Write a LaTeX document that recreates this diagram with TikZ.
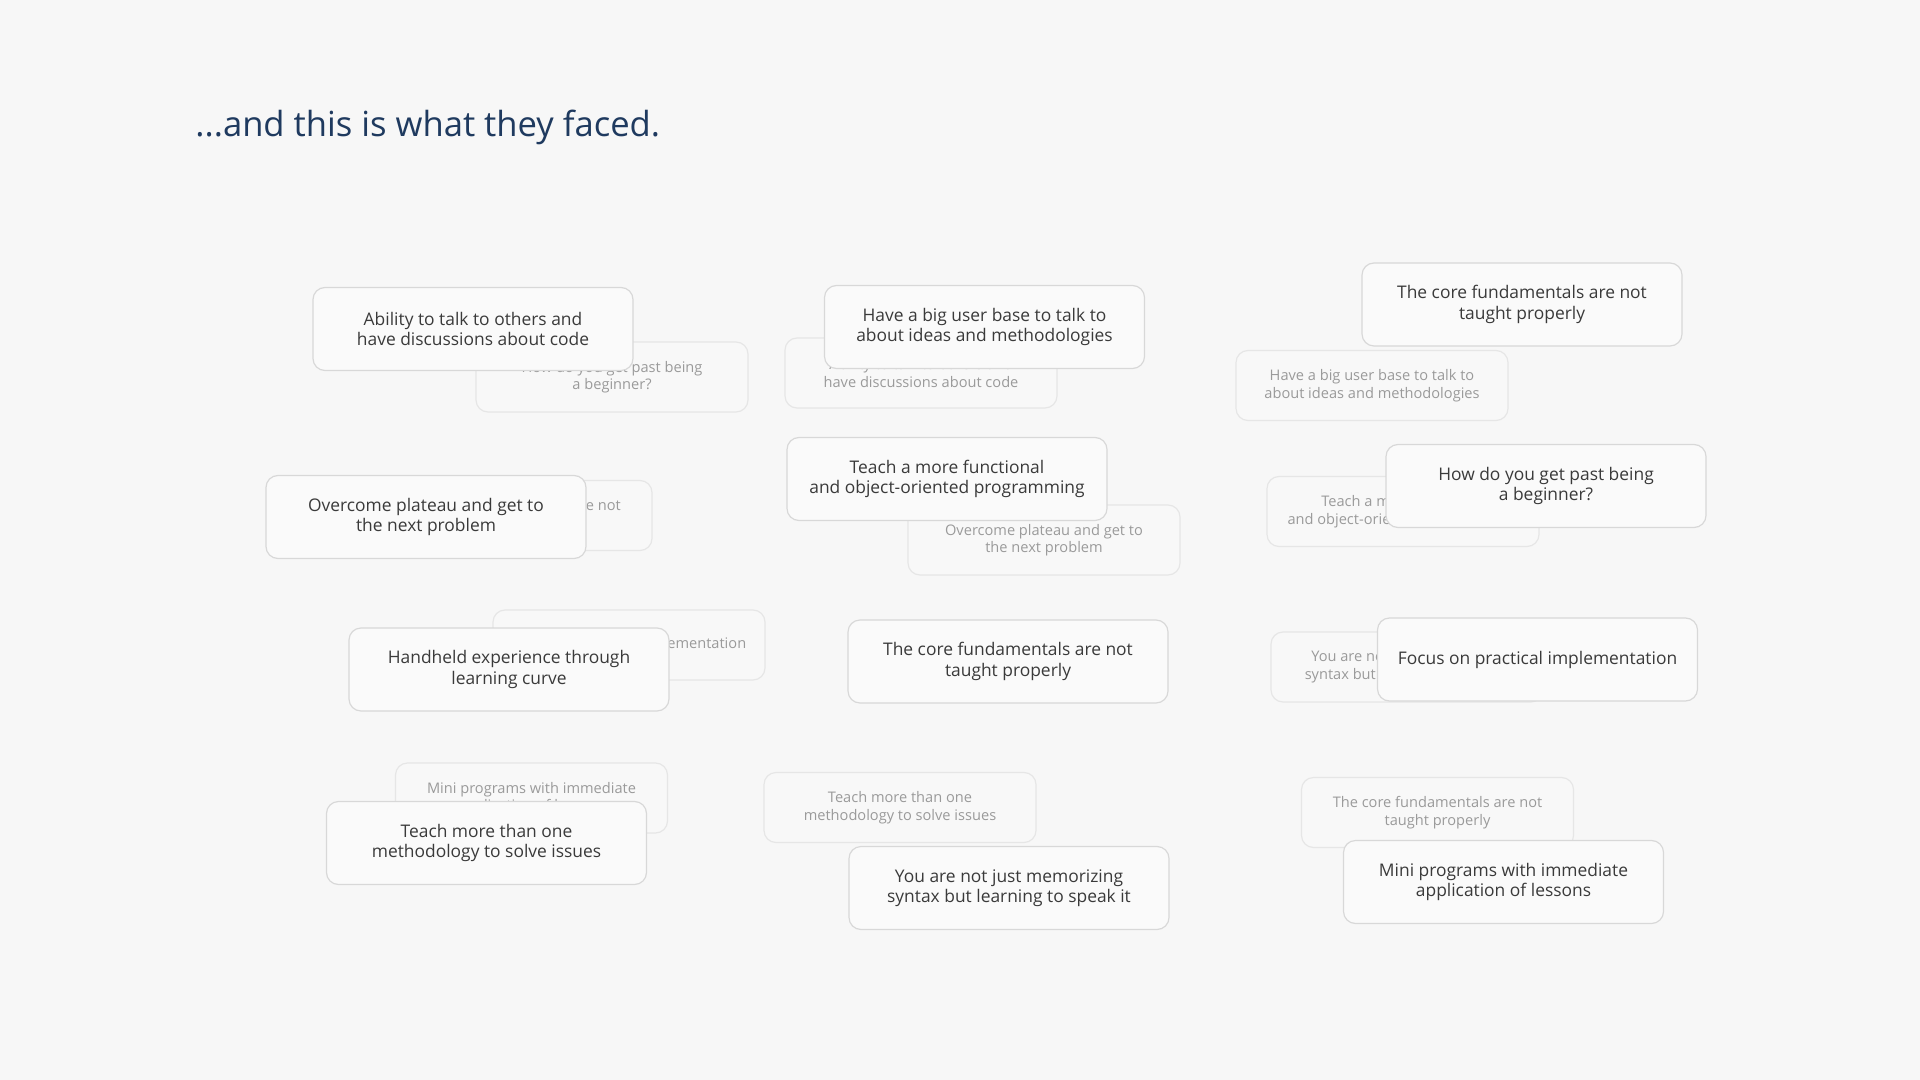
\documentclass[tikz,border=0pt]{standalone}
\usepackage{fontspec}
\setmainfont{Open Sans}
\definecolor{bgc}{HTML}{F7F7F7}
\definecolor{frontfill}{HTML}{FAFAFA}
\definecolor{frontline}{HTML}{D8D8D8}
\definecolor{backfill}{HTML}{F8F8F8}
\definecolor{backline}{HTML}{E6E6E6}
\definecolor{fronttext}{HTML}{3A3A3A}
\definecolor{backtext}{HTML}{9A9A9A}
\definecolor{titlec}{HTML}{1F3A5F}
\tikzset{
  frontcard/.style={draw=frontline, fill=frontfill, line width=0.6pt, rounded corners=6pt,
    minimum width=160pt, minimum height=41.5pt, inner sep=0pt, align=center,
    text=fronttext, font=\fontsize{8.7}{10.25}\selectfont},
  backcard/.style={draw=backline, fill=backfill, line width=0.6pt, rounded corners=6pt,
    minimum width=136pt, minimum height=35pt, inner sep=0pt, align=center,
    text=backtext, font=\fontsize{7.3}{8.75}\selectfont},
  titletext/.style={anchor=base west, inner sep=0pt, text=titlec, font=\fontsize{17.3}{20}\selectfont}
}
\begin{document}
\begin{tikzpicture}[x=0.5pt,y=-0.5pt]
\fill[bgc] (0,0) rectangle (1920,1080);
\useasboundingbox (0,0) rectangle (1920,1080);

\node[titletext] (title) at (195,137) {...and this is what they faced.};

% back cards
\node[backcard] (b1) at (612,377) {How do you get past being\\a beginner?};
\node[backcard] (b2) at (921,373) {Ability to talk to others and\\have discussions about code};
\node[backcard] (b3) at (1372,385.5) {Have a big user base to talk to\\about ideas and methodologies};
\node[backcard] (b4) at (516,515.5) {The core fundamentals are not\\taught properly};
\node[backcard] (b5) at (1044,540) {Overcome plateau and get to\\the next problem};
\node[backcard] (b6) at (1403,511.5) {Teach a more functional\\and object-oriented programming};
\node[backcard] (b7) at (629,645) {Focus on practical implementation};
\node[backcard] (b9) at (1407,667) {You are not just memorizing\\syntax but learning to speak it};
\node[backcard] (b10) at (531.5,798) {Mini programs with immediate\\application of lessons};
\node[backcard] (b11) at (900,807.5) {Teach more than one\\methodology to solve issues};
\node[backcard] (b12) at (1437.5,812.5) {The core fundamentals are not\\taught properly};

% front cards
\node[frontcard] (f1) at (473,329) {Ability to talk to others and\\have discussions about code};
\node[frontcard] (f2) at (984.5,327) {Have a big user base to talk to\\about ideas and methodologies};
\node[frontcard] (f3) at (1522,304.5) {The core fundamentals are not\\taught properly};
\node[frontcard] (f4) at (426,517) {Overcome plateau and get to\\the next problem};
\node[frontcard] (f5) at (947,479) {Teach a more functional\\and object-oriented programming};
\node[frontcard] (f6) at (1546,486) {How do you get past being\\a beginner?};
\node[frontcard] (f7) at (509,669.5) {Handheld experience through\\learning curve};
\node[frontcard] (f8) at (1008,661.5) {The core fundamentals are not\\taught properly};
\node[frontcard] (f9) at (1537.5,659.5) {Focus on practical implementation};
\node[frontcard] (f10) at (486.5,843) {Teach more than one\\methodology to solve issues};
\node[frontcard] (f11) at (1009,888) {You are not just memorizing\\syntax but learning to speak it};
\node[frontcard] (f12) at (1503.5,882) {Mini programs with immediate\\application of lessons};
\end{tikzpicture}
\end{document}
